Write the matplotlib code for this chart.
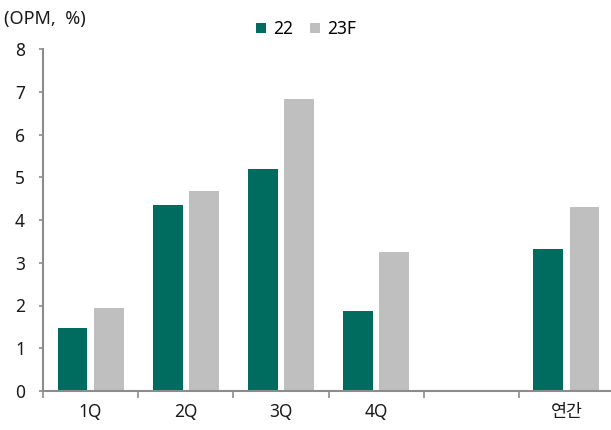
import numpy as np
import matplotlib.pyplot as plt

plt.rcParams['font.family'] = ['Noto Sans', 'Noto Sans CJK KR', 'DejaVu Sans']

# Data
categories = ['1Q', '2Q', '3Q', '4Q', '', '연간']
opm_22 = [1.47, 4.35, 5.19, 1.88, np.nan, 3.33]
opm_23f = [1.94, 4.68, 6.82, 3.24, np.nan, 4.30]
series_names = ['22', '23F']

teal = '#006B5F'
grey = '#BFBFBF'
axis_col = '#8C8C8C'
txt = '#1A1A1A'

fig = plt.figure(figsize=(6.11, 4.30), dpi=100)
ax = fig.add_axes([43 / 611, 1 - 391 / 430, 571 / 611, (391 - 49) / 430])

x = np.arange(len(categories))
w = 0.315
off = 0.19
ax.bar(x - off, opm_22, w, color=teal, label=series_names[0])
ax.bar(x + off, opm_23f, w, color=grey, label=series_names[1])

ax.set_xlim(-0.5, len(categories) - 0.5)
ax.set_ylim(0, 8)
ax.set_yticks(range(0, 9))

# labels at centres, tick marks at category boundaries
ax.set_xticks(x)
ax.set_xticklabels(categories)
ax.set_xticks(np.arange(-0.5, len(categories) - 0.5), minor=True)
ax.tick_params(axis='x', which='major', length=0, pad=9, labelsize=12.5, colors=txt)
ax.tick_params(axis='x', which='minor', length=5, width=1.2, color=axis_col, direction='out')
ax.tick_params(axis='y', length=3, width=1.2, color=axis_col, pad=10, labelsize=12.5,
               labelcolor=txt)

for s in ['top', 'right']:
    ax.spines[s].set_visible(False)
for s in ['left', 'bottom']:
    ax.spines[s].set_color(axis_col)
    ax.spines[s].set_linewidth(1.5)

fig.text(4 / 611, 1 - 19 / 430, '(OPM,  %)', fontsize=13, va='center', ha='left', color=txt)

ax.legend(loc='center', bbox_to_anchor=(306 / 611, 1 - 29 / 430), bbox_transform=fig.transFigure,
          ncol=2, frameon=False, fontsize=12.5, handlelength=0.55, handleheight=0.55,
          handletextpad=0.4, columnspacing=1.0)

fig.savefig('out.png', dpi=100)
